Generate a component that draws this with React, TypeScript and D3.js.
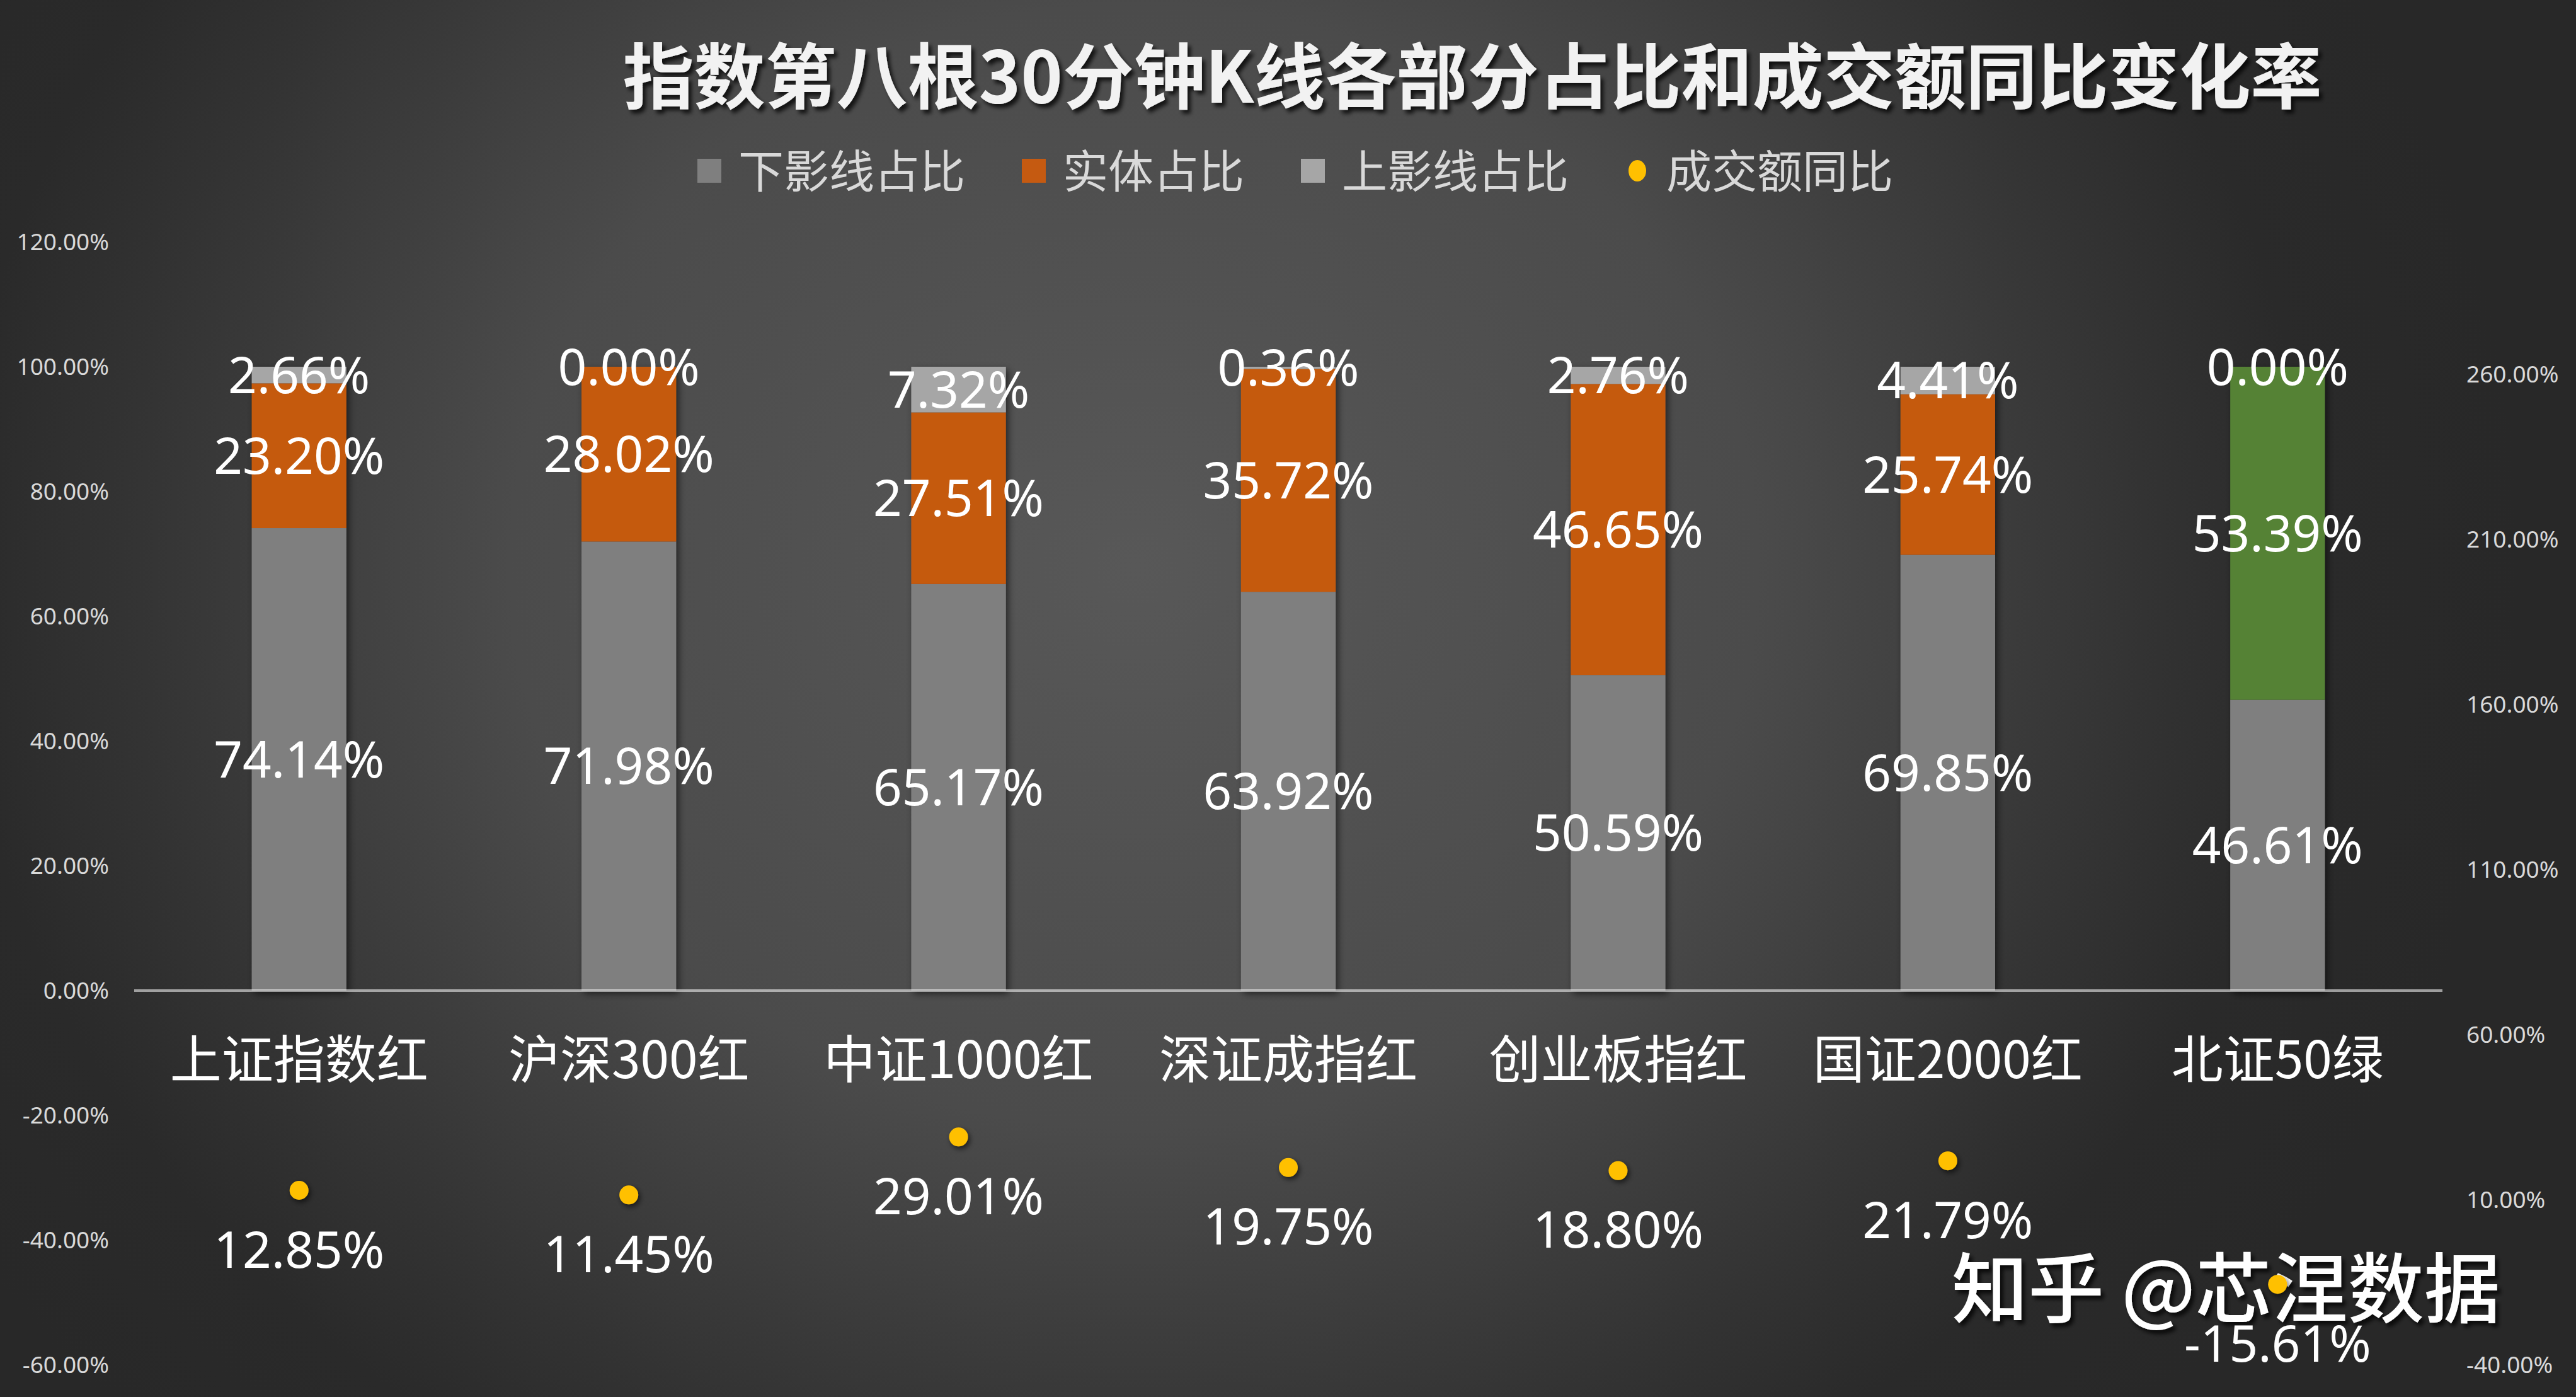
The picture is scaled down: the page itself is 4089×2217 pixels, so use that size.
import React from 'react';
import * as d3 from 'd3';

const categories = ['上证指数红', '沪深300红', '中证1000红', '深证成指红', '创业板指红', '国证2000红', '北证50绿'];
const lowerShadowPct = [74.14, 71.98, 65.17, 63.92, 50.59, 69.85, 46.61];
const bodyPct = [23.2, 28.02, 27.51, 35.72, 46.65, 25.74, 53.39];
const upperShadowPct = [2.66, 0.0, 7.32, 0.36, 2.76, 4.41, 0.0];
const volumeYoYPct = [12.85, 11.45, 29.01, 19.75, 18.8, 21.79, -15.61];
const leftTicks = [-60, -40, -20, 0, 20, 40, 60, 80, 100, 120];
const rightTicks = [-40, 10, 60, 110, 160, 210, 260];
const legendLabels = ['下影线占比', '实体占比', '上影线占比', '成交额同比'];
const titleText = '指数第八根30分钟K线各部分占比和成交额同比变化率';
const watermarkText = '知乎 @芯涅数据';

const W = 4089;
const H = 2217;
const NUM_FONT = '"Noto Sans", "Noto Sans CJK SC", sans-serif';
const CJK_FONT = '"Noto Sans CJK SC", "Noto Sans", sans-serif';

const COLORS = {
  lower: '#7f7f7f',
  bodyRed: '#c55a11',
  bodyGreen: '#548235',
  upper: '#a6a6a6',
  dot: '#ffc000',
  axisText: '#d9d9d9',
};

const pct = (v: number) => `${v.toFixed(2)}%`;

export default function App() {
  const margin = { left: 213, right: 3877, top: 384, bottom: 2166 };
  const x = d3.scaleBand<string>().domain(categories).range([margin.left, margin.right]).padding(0);
  const yL = d3.scaleLinear().domain([-60, 120]).range([margin.bottom, margin.top]);
  const yR = d3.scaleLinear().domain([-40, 300]).range([margin.bottom, margin.top]);
  const barW = x.bandwidth() * 0.287;
  const cx = (c: string) => (x(c) as number) + x.bandwidth() / 2;

  const rows = categories.map((c, i) => ({
    cat: c,
    lower: lowerShadowPct[i],
    body: bodyPct[i],
    upper: upperShadowPct[i],
  }));
  const keys = ['lower', 'body', 'upper'];
  const series = d3.stack<any>().keys(keys)(rows);

  const segColor = (key: string, cat: string) => {
    if (key === 'lower') return COLORS.lower;
    if (key === 'upper') return COLORS.upper;
    return cat.endsWith('绿') ? COLORS.bodyGreen : COLORS.bodyRed;
  };

  const labelFs = 80;
  const numMid = 0.357 * labelFs;

  const legFs = 72;
  const legY = 271;
  const markerSize = 38;
  let lx = 1107;
  const legendItems = legendLabels.map((lab, i) => {
    const item = { lab, i, mx: lx, tx: lx + markerSize + 27 };
    lx = item.tx + lab.length * legFs + 90;
    return item;
  });
  const legendColors = [COLORS.lower, COLORS.bodyRed, COLORS.upper, COLORS.dot];

  return (
    <svg
      width={W}
      height={H}
      viewBox={`0 0 ${W} ${H}`}
      style={{ position: 'absolute', left: 0, top: 0, display: 'block' }}
    >
      <defs>
        <radialGradient
          id="bg"
          gradientUnits="userSpaceOnUse"
          cx={1800}
          cy={900}
          r={2200}
          gradientTransform="translate(1800,900) scale(1,0.9) translate(-1800,-900)"
        >
          <stop offset="0" stopColor="#585858" />
          <stop offset="0.45" stopColor="#4b4b4b" />
          <stop offset="0.73" stopColor="#333333" />
          <stop offset="0.85" stopColor="#2a2a2a" />
          <stop offset="1" stopColor="#282828" />
        </radialGradient>
        <filter id="barShadow" x="-30%" y="-10%" width="160%" height="130%">
          <feDropShadow dx="4" dy="5" stdDeviation="6" floodColor="#000" floodOpacity="0.55" />
        </filter>
        <filter id="dotShadow" x="-100%" y="-100%" width="300%" height="300%">
          <feDropShadow dx="3" dy="4" stdDeviation="4" floodColor="#000" floodOpacity="0.6" />
        </filter>
        <filter id="titleShadow" x="-5%" y="-30%" width="110%" height="160%">
          <feDropShadow dx="5" dy="6" stdDeviation="3" floodColor="#000" floodOpacity="0.75" />
        </filter>
      </defs>

      <rect x={0} y={0} width={W} height={H} fill="url(#bg)" />

      <text
        x={3098}
        y={2089}
        fill="#ffffff"
        fontFamily={CJK_FONT}
        fontWeight={500}
        fontSize={121}
        filter="url(#titleShadow)"
      >
        {watermarkText}
      </text>

      <text
        x={2337}
        y={163}
        textAnchor="middle"
        fill="#f2f2f2"
        fontFamily={CJK_FONT}
        fontWeight={700}
        fontSize={113}
        filter="url(#titleShadow)"
      >
        {titleText}
      </text>

      <g>
        {legendItems.map((it) => (
          <g key={it.lab}>
            {it.i === 3 ? (
              <ellipse
                cx={it.mx + markerSize / 2}
                cy={legY}
                rx={14}
                ry={17}
                fill={legendColors[it.i]}
              />
            ) : (
              <rect
                x={it.mx}
                y={legY - markerSize / 2}
                width={markerSize}
                height={markerSize}
                fill={legendColors[it.i]}
              />
            )}
            <text
              x={it.tx}
              y={legY + 0.38 * legFs}
              fill={COLORS.axisText}
              fontFamily={CJK_FONT}
              fontSize={legFs}
            >
              {it.lab}
            </text>
          </g>
        ))}
      </g>

      <g>
        {leftTicks.map((t) => (
          <text
            key={t}
            x={173}
            y={yL(t) + 0.357 * 37}
            textAnchor="end"
            fill={COLORS.axisText}
            fontFamily={NUM_FONT}
            fontSize={37}
          >
            {pct(t)}
          </text>
        ))}
      </g>

      <g>
        {rightTicks.map((t) => (
          <text
            key={t}
            x={3915}
            y={yR(t) + 0.357 * 37}
            textAnchor="start"
            fill={COLORS.axisText}
            fontFamily={NUM_FONT}
            fontSize={37}
          >
            {pct(t)}
          </text>
        ))}
      </g>

      <g filter="url(#barShadow)">
        {series.map((s) =>
          s.map((d: any) => {
            const cat = d.data.cat as string;
            const y0 = yL(d[0]);
            const y1 = yL(d[1]);
            return (
              <rect
                key={`${s.key}-${cat}`}
                x={cx(cat) - barW / 2}
                y={y1}
                width={barW}
                height={Math.max(0, y0 - y1)}
                fill={segColor(s.key, cat)}
              />
            );
          })
        )}
      </g>

      <line
        x1={margin.left}
        x2={margin.right}
        y1={yL(0)}
        y2={yL(0)}
        stroke="#ffffff"
        strokeOpacity={0.55}
        strokeWidth={4}
      />

      <g>
        {categories.map((c) => (
          <text
            key={c}
            x={cx(c)}
            y={1680 + 0.38 * 82}
            textAnchor="middle"
            fill="#ffffff"
            fontFamily={CJK_FONT}
            fontSize={82}
          >
            {c}
          </text>
        ))}
      </g>

      <g>
        {series.map((s) =>
          s.map((d: any) => {
            const cat = d.data.cat as string;
            const mid = (yL(d[0]) + yL(d[1])) / 2;
            const v = d.data[s.key] as number;
            return (
              <text
                key={`lab-${s.key}-${cat}`}
                x={cx(cat)}
                y={mid + numMid}
                textAnchor="middle"
                fill="#ffffff"
                fontFamily={NUM_FONT}
                fontSize={labelFs}
              >
                {pct(v)}
              </text>
            );
          })
        )}
      </g>

      <g>
        {categories.map((c, i) => (
          <g key={`dot-${c}`}>
            <circle
              cx={cx(c)}
              cy={yR(volumeYoYPct[i])}
              r={15}
              fill={COLORS.dot}
              filter="url(#dotShadow)"
            />
            <text
              x={cx(c)}
              y={yR(volumeYoYPct[i]) + 94 + numMid}
              textAnchor="middle"
              fill="#ffffff"
              fontFamily={NUM_FONT}
              fontSize={labelFs}
            >
              {pct(volumeYoYPct[i])}
            </text>
          </g>
        ))}
      </g>
    </svg>
  );
}
